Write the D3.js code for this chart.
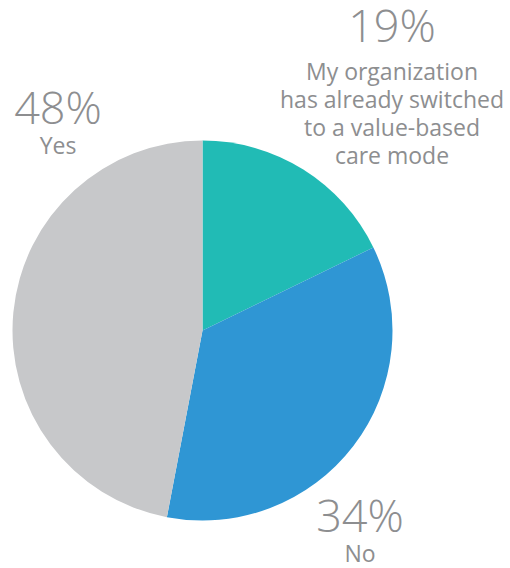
<!DOCTYPE html>
<html>
<head>
<meta charset="utf-8">
<script src="https://cdn.jsdelivr.net/npm/d3@7"></script>
<style>
  body { margin: 0; background: #fff; }
  text { font-family: "Open Sans", sans-serif; fill: #8d8e90; }
</style>
</head>
<body>
<svg id="chart"></svg>
<script>
// slice shares (printed labels are rounded)
const answers = ["My organization has already switched to a value-based care mode", "No", "Yes"];
const shares = [17.8, 35.2, 47.0];
const pctLabels = ["19%", "34%", "48%"];
const nameLines = [
  ["My organization", "has already switched", "to a value-based", "care mode"],
  ["No"],
  ["Yes"],
];
const colors = ["#21bbb5", "#2f96d4", "#c7c8ca"];

const width = 510, height = 568;
const cx = 202.5, cy = 330.5, radius = 190;

const svg = d3.select("#chart").attr("width", width).attr("height", height);

const pie = d3.pie().sort(null).value((d) => d.value);
const arc = d3.arc().innerRadius(0).outerRadius(radius);

const data = answers.map((a, i) => ({ name: a, value: shares[i], i }));

const g = svg.append("g").attr("transform", `translate(${cx}, ${cy})`);
g.selectAll("path")
  .data(pie(data))
  .join("path")
  .attr("d", arc)
  .attr("fill", (d) => colors[d.data.i]);

// label anchors (x, baseline of percent, gap to first text line)
const labelPos = [
  { x: 392, y: 42, gap: 38 },
  { x: 360, y: 532, gap: 30 },
  { x: 58, y: 124, gap: 30 },
];

const labels = svg.selectAll("g.label")
  .data(data)
  .join("g")
  .attr("class", "label")
  .attr("transform", (d) => `translate(${labelPos[d.i].x}, ${labelPos[d.i].y})`);

labels.append("text")
  .attr("text-anchor", "middle")
  .attr("font-size", 45)
  .attr("font-weight", 300)
  .text((d) => pctLabels[d.i]);

labels.each(function (d) {
  const t = d3.select(this).append("text")
    .attr("text-anchor", "middle")
    .attr("font-size", 23);
  t.selectAll("tspan")
    .data(nameLines[d.i])
    .join("tspan")
    .attr("x", 0)
    .attr("y", (l, j) => labelPos[d.i].gap + j * 28)
    .text((l) => l);
});
</script>
</body>
</html>
